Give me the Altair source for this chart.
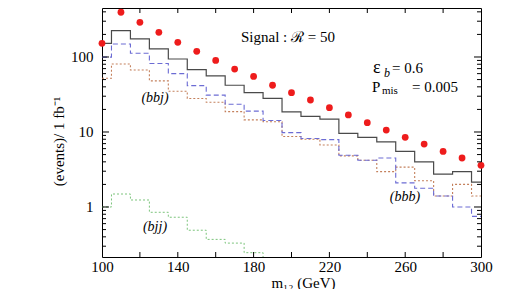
import altair as alt
import pandas as pd

# ---- data ----
m_bins = [100, 110, 120, 130, 140, 150, 160, 170, 180, 190, 200,
          210, 220, 230, 240, 250, 260, 270, 280, 290, 300]
signal = [152, 395, 290, 213, 157, 119, 90, 69, 55, 42, 33.4,
          26.7, 21.1, 16.9, 13.3, 10.6, 8.5, 6.9, 5.5, 4.5, 3.6]
total = [152, 224, 174, 128, 94, 68, 56, 42, 33.4, 28, 18.5,
         16.2, 14.8, 9.6, 8.5, 7.4, 5.5, 4.0, 2.75, 2.96, 2.15]
blue_series = [99.6, 149, 112, 82, 60, 41.5, 31, 23.4, 19, 14.2, 9.8,
               8.2, 7.9, 4.9, 4.2, 4.5, 2.1, 1.78, 1.4, 1.0, 0.75]
brown_series = [52, 80.6, 67, 48, 35, 28, 24.9, 18.7, 14.5, 13.7, 8.7,
                8.0, 6.7, 4.8, 4.2, 2.96, 3.4, 2.24, 1.4, 2.0, 1.4]
bjj_bins = [100, 110, 120, 130, 140, 150, 160, 170, 180, 190]
bjj = [1.0, 1.49, 1.24, 0.85, 0.73, 0.49, 0.37, 0.33, 0.246, 0.17]

y_major = [1, 10, 100]
y_minor = [0.3, 0.4, 0.5, 0.6, 0.7, 0.8, 0.9,
           2, 3, 4, 5, 6, 7, 8, 9,
           20, 30, 40, 50, 60, 70, 80, 90,
           200, 300, 400]
x_ticks = [120, 140, 160, 180, 200, 220, 240, 260, 280]
x_labels = [100, 140, 180, 220, 260, 300]

W, H = 379, 249
FONT = "Liberation Serif"

xs = alt.Scale(domain=[100, 300], nice=False, zero=False)
ys = alt.Scale(type="log", domain=[0.2154, 450], nice=False)

xaxis = alt.Axis(values=x_labels, title="m₁₂ (GeV)", ticks=False, tickSize=0,
                 domain=False, grid=False, labelFont=FONT, labelFontSize=15,
                 labelColor="black", labelPadding=2, labelFlush=False,
                 labelOverlap=False, labelBound=False, format="d",
                 titleFont=FONT, titleFontSize=15, titleFontWeight="normal",
                 titleColor="black", titleX=201, titleY=25,
                 titleBaseline="middle", titleAlign="center")
yaxis = alt.Axis(values=y_major, title="(events)/ 1 fb⁻¹", ticks=False, tickSize=0,
                 domain=False, grid=False, labelFont=FONT, labelFontSize=15,
                 labelColor="black", labelPadding=9, labelFlush=False,
                 labelOverlap=False, labelBound=False, format="d",
                 titleFont=FONT, titleFontSize=15, titleFontWeight="normal",
                 titleColor="black", titleX=-44, titleY=133, titleAngle=270,
                 titleBaseline="middle", titleAlign="center")

X = alt.X("m:Q", scale=xs, axis=xaxis)
Y = alt.Y("v:Q", scale=ys, axis=yaxis)


def hist(mvals, vals, color, dash=None, width=1.1):
    df = pd.DataFrame({"m": mvals, "v": vals})
    kw = dict(interpolate="step", color=color, strokeWidth=width, clip=True)
    if dash:
        kw["strokeDash"] = dash
    return alt.Chart(df).mark_line(**kw).encode(x=X, y=Y)


layers = [
    hist(m_bins, brown_series, "#c4805c", [2, 2]),
    hist(m_bins, blue_series, "#6c6cd4", [5, 3]),
    hist(bjj_bins, bjj, "#7cc47c", [2, 2], 1.0),
    hist(m_bins, total, "#4a4a4a", None, 1.2),
    alt.Chart(pd.DataFrame({"m": m_bins, "v": signal})).mark_circle(
        size=46, color="#ee1c1c", opacity=1).encode(x=X, y=Y),
]

# tick marks (inward)
ymaj = pd.DataFrame({"v": y_major})
ymin = pd.DataFrame({"v": y_minor})
xt = pd.DataFrame({"m": x_ticks})
layers += [
    alt.Chart(ymaj).mark_rule(color="black").encode(y=Y, x=alt.value(0), x2=alt.value(7)),
    alt.Chart(ymaj).mark_rule(color="black").encode(y=Y, x=alt.value(W - 7), x2=alt.value(W)),
    alt.Chart(ymin).mark_rule(color="black").encode(y=Y, x=alt.value(0), x2=alt.value(4)),
    alt.Chart(ymin).mark_rule(color="black").encode(y=Y, x=alt.value(W - 4), x2=alt.value(W)),
    alt.Chart(xt).mark_rule(color="black").encode(x=X, y=alt.value(H - 5), y2=alt.value(H)),
    alt.Chart(xt).mark_rule(color="black").encode(x=X, y=alt.value(0), y2=alt.value(5)),
]


def txt(s, x, y, size=15, style="normal", align="left"):
    return alt.Chart(pd.DataFrame({"t": [s]})).mark_text(
        font=FONT, fontSize=size, fontStyle=style, align=align,
        baseline="middle", color="black").encode(
        x=alt.value(x), y=alt.value(y), text="t:N")


layers += [
    txt("Signal : ℛ = 50", 186, 29, 15, align="center"),
    txt("ε", 271, 60, 18),
    txt("b", 282, 65, 12, "italic"),
    txt("= 0.6", 290, 60, 15),
    txt("P", 270, 79, 15),
    txt("mis", 280, 83, 11),
    txt("= 0.005", 310, 79, 15),
    txt("(bbj)", 53, 90, 14, "italic", "center"),
    txt("(bbb)", 303, 189, 14, "italic", "center"),
    txt("(bjj)", 53, 219, 14, "italic", "center"),
]

chart = alt.layer(*layers).properties(
    width=W, height=H,
    autosize=alt.AutoSizeParams(type="none"),
    padding={"left": 94, "top": 0, "right": 16, "bottom": 36},
).configure_view(stroke="black", strokeWidth=1)

chart.save("out.html", embed_options={"renderer": "svg", "actions": False})
